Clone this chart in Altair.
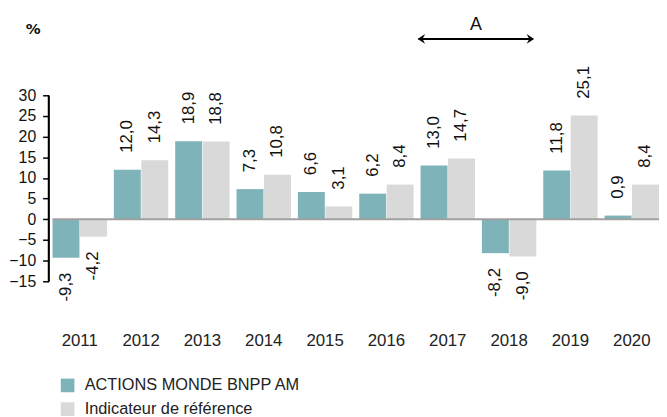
import altair as alt
import pandas as pd

years = ["2011", "2012", "2013", "2014", "2015", "2016", "2017", "2018", "2019", "2020"]
fund = [-9.3, 12.0, 18.9, 7.3, 6.6, 6.2, 13.0, -8.2, 11.8, 0.9]
bench = [-4.2, 14.3, 18.8, 10.8, 3.1, 8.4, 14.7, -9.0, 25.1, 8.4]
series_names = ["ACTIONS MONDE BNPP AM", "Indicateur de référence"]
y_ticks = [-15, -10, -5, 0, 5, 10, 15, 20, 25, 30]
arrow_from = ["2017"]
arrow_to = ["2018"]
arrow_label = ["A"]

rows = []
for name, vals in zip(series_names, [fund, bench]):
    for yr, v in zip(years, vals):
        rows.append({"year": yr, "series": name, "value": v,
                     "label": f"{v:.1f}".replace(".", ",")})
df = pd.DataFrame(rows)
arrow_df = pd.DataFrame({"from": arrow_from, "to": arrow_to, "label": arrow_label})
axis_df = pd.DataFrame({"lo": [min(y_ticks)], "hi": [max(y_ticks)]})

TEAL = "#7fb3ba"
GRAY = "#d9d9d9"
FONT = "Liberation Sans"

xscale = alt.Scale(domain=years, paddingInner=0.113, paddingOuter=0)
x_axis = alt.Axis(title=None, domain=False, ticks=False, labelAngle=0,
                  labelFont=FONT, labelFontSize=17, labelColor="#222", labelPadding=52)
xoff = alt.XOffset("series:N", scale=alt.Scale(domain=series_names, paddingInner=0.02),
                   sort=series_names)
yscale = alt.Scale(domain=[-15, 30], nice=False, zero=True)
y_axis = alt.Axis(title="%", titleAngle=0, titleX=-16, titleY=-67,
                  titleAlign="center", titleBaseline="middle",
                  titleFont="DejaVu Sans", titleFontSize=15, titleFontWeight="bold",
                  titleColor="#111",
                  values=y_ticks, grid=False, domain=True, domainColor="#000",
                  domainWidth=1.5, tickColor="#000", tickSize=6,
                  tickWidth=1.5, labelOverlap=False,
                  labelFont=FONT, labelFontSize=16, labelColor="#111",
                  labelPadding=7, offset=4)

bars = alt.Chart(df).mark_bar().encode(
    x=alt.X("year:N", scale=xscale, sort=years, axis=x_axis),
    xOffset=xoff,
    y=alt.Y("value:Q", scale=yscale, axis=y_axis),
    color=alt.Color("series:N", scale=alt.Scale(domain=series_names, range=[TEAL, GRAY]),
                    legend=alt.Legend(title=None, orient="none", legendX=7, legendY=285,
                                      symbolType="square", symbolSize=190,
                                      symbolStrokeWidth=0, labelFont=FONT,
                                      labelFontSize=16.5, labelColor="#222", labelLimit=0,
                                      labelOffset=9, rowPadding=7)),
)

zero = alt.Chart(pd.DataFrame({"value": [0]})).mark_rule(color="#a0a0a0", strokeWidth=2).encode(
    y=alt.Y("value:Q", scale=yscale, axis=y_axis)
)

axis_line = alt.Chart(axis_df).mark_rule(color="#000000", strokeWidth=1.6).encode(
    x=alt.value(-4),
    y=alt.Y("lo:Q", scale=yscale, axis=y_axis),
    y2="hi:Q",
)

pos_labels = alt.Chart(df).transform_filter(alt.datum.value >= 0).mark_text(
    angle=270, align="left", baseline="middle", dx=17, font=FONT, fontSize=17, color="#111"
).encode(x=alt.X("year:N", scale=xscale, sort=years, axis=x_axis), xOffset=xoff,
         y=alt.Y("value:Q", scale=yscale, axis=y_axis), text="label:N")

neg_labels = alt.Chart(df).transform_filter(alt.datum.value < 0).mark_text(
    angle=270, align="right", baseline="middle", dx=-15, font=FONT, fontSize=17, color="#111"
).encode(x=alt.X("year:N", scale=xscale, sort=years, axis=x_axis), xOffset=xoff,
         y=alt.Y("value:Q", scale=yscale, axis=y_axis), text="label:N")

arrow_line = alt.Chart(arrow_df).mark_rule(color="#000", strokeWidth=2, xOffset=-2,
                                           x2Offset=-2).encode(
    x=alt.X("from:N", scale=xscale, sort=years, bandPosition=0, axis=x_axis),
    x2=alt.X2("to:N", bandPosition=0.95),
    y=alt.value(-57),
)
head_left = alt.Chart(arrow_df).mark_point(
    shape="M0,0 L1.7,-1.1 L1.1,0 L1.7,1.1 Z", filled=True, color="#000", size=80, opacity=1,
    xOffset=-3
).encode(x=alt.X("from:N", scale=xscale, sort=years, bandPosition=0, axis=x_axis),
         y=alt.value(-57))
head_right = alt.Chart(arrow_df).mark_point(
    shape="M0,0 L-1.7,-1.1 L-1.1,0 L-1.7,1.1 Z", filled=True, color="#000", size=80, opacity=1
).encode(x=alt.X("to:N", scale=xscale, sort=years, bandPosition=0.96, axis=x_axis),
         y=alt.value(-57))
arrow_text = alt.Chart(arrow_df).mark_text(
    font=FONT, fontSize=18, color="#111", baseline="middle", xOffset=-6
).encode(x=alt.X("to:N", scale=xscale, sort=years, bandPosition=0, axis=x_axis),
         y=alt.value(-71), text="label:N")

chart = alt.layer(bars, zero, axis_line, pos_labels, neg_labels, arrow_line, head_left,
                  head_right, arrow_text).properties(
    width=613, height=188,
    autosize=alt.AutoSizeParams(type="none"),
    padding={"left": 45, "top": 86, "right": 0, "bottom": 140},
).configure_view(stroke=None)

chart.save("out.html", embed_options={"renderer": "svg", "actions": False})
